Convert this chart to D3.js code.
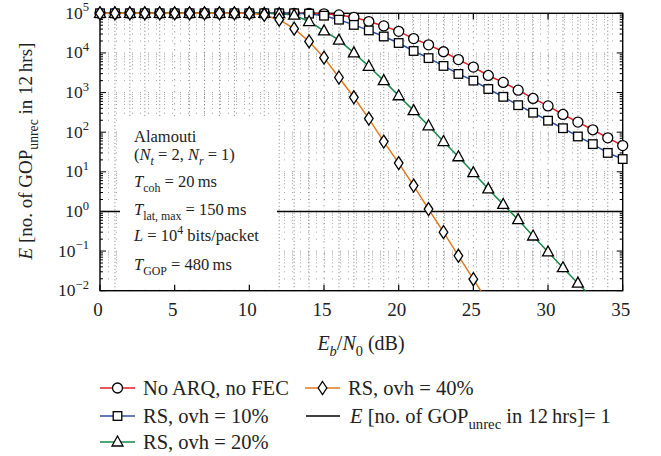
<!DOCTYPE html>
<html><head><meta charset="utf-8">
<script src="https://d3js.org/d3.v7.min.js"></script>
<style>
html,body{margin:0;padding:0;background:#fff;}
svg, svg text, svg tspan{font-family:"Liberation Serif","Times New Roman",Times,"DejaVu Serif",serif;}
</style></head>
<body><svg id="c" width="661" height="456" font-family="Liberation Serif, Times New Roman, serif"></svg>
<script>
// ---- data ----
const ebn0 = [0,1,2,3,4,5,6,7,8,9,10,11,12,13,14,15,16,17,18,19,20,21,22,23,24,25,26,27,28,29,30,31,32,33,34,35];
const noArqNoFec = [1e5,1e5,1e5,1e5,1e5,1e5,1e5,1e5,1e5,1e5,1e5,1e5,1e5,1e5,1e5,9.7e4,9.1e4,7.9e4,6.2e4,4.8e4,3.5e4,2.3e4,1.6e4,1.07e4,6.8e3,4.4e3,2.7e3,1.8e3,1.15e3,710,460,280,180,115,72,46];
const rs10 = [1e5,1e5,1e5,1e5,1e5,1e5,1e5,1e5,1e5,1e5,1e5,1e5,1e5,1e5,9.8e4,8.7e4,6.9e4,5.1e4,3.7e4,2.6e4,1.78e4,1.12e4,7.4e3,4.7e3,2.95e3,2.0e3,1.23e3,780,480,310,195,126,78,50,30,21];
const rs20 = [1e5,1e5,1e5,1e5,1e5,1e5,1e5,1e5,1e5,1e5,1e5,1e5,9.8e4,9.0e4,6.2e4,3.6e4,2.1e4,1.0e4,4.6e3,2.0e3,830,350,145,58,24,9.5,3.7,1.5,0.62,0.24,0.095,0.038,0.0155,0.0063];
const rs40 = [1e5,1e5,1e5,1e5,1e5,1e5,1e5,1e5,1e5,1e5,1e5,9.1e4,6.9e4,4.1e4,1.95e4,7.6e3,2.4e3,760,220,58,16.6,4.5,1.15,0.30,0.076,0.0195,0.005];
const xTicks = [0,5,10,15,20,25,30,35];
const yExps = [-2,-1,0,1,2,3,4,5];
const threshold = 1;

const series = [
  {name:"No ARQ, no FEC", vals:noArqNoFec, color:"#e31e24", marker:"circle"},
  {name:"RS, ovh = 10%", vals:rs10, color:"#2e4f9e", marker:"square"},
  {name:"RS, ovh = 20%", vals:rs20, color:"#17894a", marker:"triangle"},
  {name:"RS, ovh = 40%", vals:rs40, color:"#e07a1e", marker:"diamond"}
];

const FONT = "Liberation Serif, Times New Roman, serif";
const svg = d3.select("#c");
const L = 100, R = 622.7, T = 13.3, B = 290.7;
const x = d3.scaleLinear().domain([0,35]).range([L,R]);
const y = d3.scaleLog().domain([1e-2,1e5]).range([B,T]);

// rich text helper
function rich(sel, parts, size){
  sel.attr("font-family", FONT);
  let cur = 0;
  parts.forEach(p=>{
    const ts = sel.append("tspan").text(p.t);
    let target = 0, fs = size;
    if(p.sub){ target = size*0.3; fs = size*0.72; }
    if(p.sup){ target = -size*0.42; fs = size*0.72; }
    ts.attr("font-size", fs);
    if(target!==cur){ ts.attr("dy", target-cur); cur = target; }
    if(p.i) ts.attr("font-style","italic");
  });
}

// grid
const g = svg.append("g");
ebn0.filter(d=>d>0&&d<35).forEach(d=>{
  g.append("line").attr("x1",x(d)).attr("x2",x(d)).attr("y1",T).attr("y2",B)
   .attr("stroke","#444").attr("stroke-width",0.7)
   .attr("stroke-dasharray", d%5===0 ? "1,5" : "1,2.5");
});
const yTickVals = y.ticks();
yTickVals.forEach(v=>{
  if(v<=1e-2||v>=1e5) return;
  g.append("line").attr("x1",L).attr("x2",R).attr("y1",y(v)).attr("y2",y(v))
   .attr("stroke","#666").attr("stroke-width",0.6).attr("stroke-dasharray","1,7");
});

// threshold line
svg.append("line").attr("x1",L).attr("x2",R).attr("y1",y(threshold)).attr("y2",y(threshold))
  .attr("stroke","#000").attr("stroke-width",1.4);

// annotation box (white)
svg.append("rect").attr("x",120).attr("y",118).attr("width",157).attr("height",171).attr("fill","#fff");
const ann = svg.append("g").attr("font-size",16.5).attr("fill","#222");
const annLines = [
  {yy:142, parts:[{t:"Alamouti"}]},
  {yy:160, parts:[{t:"("},{t:"N",i:1},{t:"t",i:1,sub:1},{t:" = 2, "},{t:"N",i:1},{t:"r",i:1,sub:1},{t:" = 1)"}]},
  {yy:187, parts:[{t:"T",i:1},{t:"coh",sub:1},{t:" = 20\u2009ms"}]},
  {yy:215, parts:[{t:"T",i:1},{t:"lat, max",sub:1},{t:" = 150\u2009ms"}]},
  {yy:241, parts:[{t:"L",i:1},{t:" = 10"},{t:"4",sup:1},{t:" bits/packet"}]},
  {yy:270, parts:[{t:"T",i:1},{t:"GOP",sub:1},{t:" = 480\u2009ms"}]}
];
annLines.forEach(l=>{ rich(ann.append("text").attr("x",134).attr("y",l.yy), l.parts, 16.5); });

// frame + ticks
svg.append("rect").attr("x",L).attr("y",T).attr("width",R-L).attr("height",B-T)
  .attr("fill","none").attr("stroke","#000").attr("stroke-width",1.4);
xTicks.forEach(d=>{
  svg.append("line").attr("x1",x(d)).attr("x2",x(d)).attr("y1",B).attr("y2",B-6).attr("stroke","#000").attr("stroke-width",1.2);
  svg.append("line").attr("x1",x(d)).attr("x2",x(d)).attr("y1",T).attr("y2",T+6).attr("stroke","#000").attr("stroke-width",1.2);
});
yTickVals.forEach(v=>{
  const major = Math.abs(Math.log10(v)-Math.round(Math.log10(v)))<1e-9;
  const len = major?6:3;
  [[L,L+len],[R,R-len]].forEach(([a,b])=>{
    svg.append("line").attr("x1",a).attr("x2",b).attr("y1",y(v)).attr("y2",y(v)).attr("stroke","#000").attr("stroke-width",1);
  });
});

// x tick labels
const xl = svg.append("g").attr("font-size",19).attr("fill","#222").attr("text-anchor","middle").attr("font-family",FONT);
xTicks.forEach(d=>{ xl.append("text").attr("x",x(d)-2).attr("y",316).attr("font-family",FONT).text(d); });
// y tick labels
const yl = svg.append("g").attr("fill","#222").attr("text-anchor","end");
yExps.forEach(e=>{
  const t = yl.append("text").attr("x",89).attr("y",y(Math.pow(10,e))+5.5).attr("font-size",17.5);
  rich(t,[{t:"10"},{t:e<0?"\u2212"+(-e):String(e),sup:1}],17.5);
});

// axis titles
rich(svg.append("text").attr("x",361).attr("y",350).attr("text-anchor","middle").attr("font-size",20).attr("fill","#222"),
  [{t:"E",i:1},{t:"b",i:1,sub:1},{t:"/"},{t:"N",i:1},{t:"0",sub:1},{t:" (dB)"}],20);
rich(svg.append("text").attr("transform","translate(32,151) rotate(-90)").attr("text-anchor","middle").attr("font-size",19).attr("fill","#222"),
  [{t:"E",i:1},{t:" [no. of GOP"},{t:"unrec",sub:1},{t:" in 12\u2009hrs]"}],19);

// markers
function marker(sel, type, cx, cy){
  const st = s=>s.attr("fill","#fff").attr("stroke","#000").attr("stroke-width",1.3);
  if(type==="circle") st(sel.append("circle").attr("cx",cx).attr("cy",cy).attr("r",5));
  if(type==="square") st(sel.append("rect").attr("x",cx-4.3).attr("y",cy-4.3).attr("width",8.6).attr("height",8.6));
  if(type==="triangle") st(sel.append("path").attr("d",`M${cx},${cy-6}L${cx+5.5},${cy+4}L${cx-5.5},${cy+4}Z`));
  if(type==="diamond") st(sel.append("path").attr("d",`M${cx},${cy-6.5}L${cx+4.3},${cy}L${cx},${cy+6.5}L${cx-4.3},${cy}Z`));
}

// curves
svg.append("clipPath").attr("id","clip").append("rect").attr("x",L-8).attr("y",T-8).attr("width",R-L+16).attr("height",B-T+8);
const plot = svg.append("g").attr("clip-path","url(#clip)");
const line = d3.line().x((d,i)=>x(ebn0[i])).y(d=>y(d));
series.forEach(s=>{
  plot.append("path").attr("d",line(s.vals)).attr("fill","none").attr("stroke",s.color).attr("stroke-width",1.5);
});
series.forEach(s=>{
  s.vals.forEach((v,i)=>{ if(v>=1e-2) marker(plot, s.marker, x(ebn0[i]), y(v)); });
});

// legend
const LFS = 20.5;
const leg = svg.append("g").attr("font-size",LFS).attr("fill","#222");
const legItems = [
  {s:series[0], lx:100, ly:388},
  {s:series[1], lx:100, ly:416},
  {s:series[2], lx:100, ly:442},
  {s:series[3], lx:305, ly:388}
];
legItems.forEach(it=>{
  leg.append("line").attr("x1",it.lx).attr("x2",it.lx+35).attr("y1",it.ly).attr("y2",it.ly).attr("stroke",it.s.color).attr("stroke-width",1.5);
  marker(leg, it.s.marker, it.lx+17.5, it.ly);
  leg.append("text").attr("x",it.lx+43).attr("y",it.ly+6.5).attr("font-family",FONT).text(it.s.name);
});
leg.append("line").attr("x1",306).attr("x2",340).attr("y1",416).attr("y2",416).attr("stroke","#000").attr("stroke-width",1.4);
rich(leg.append("text").attr("x",350).attr("y",422.5),
  [{t:"E",i:1},{t:" [no. of GOP"},{t:"unrec",sub:1},{t:" in 12\u2009hrs]= 1"}],LFS);
</script></body></html>
